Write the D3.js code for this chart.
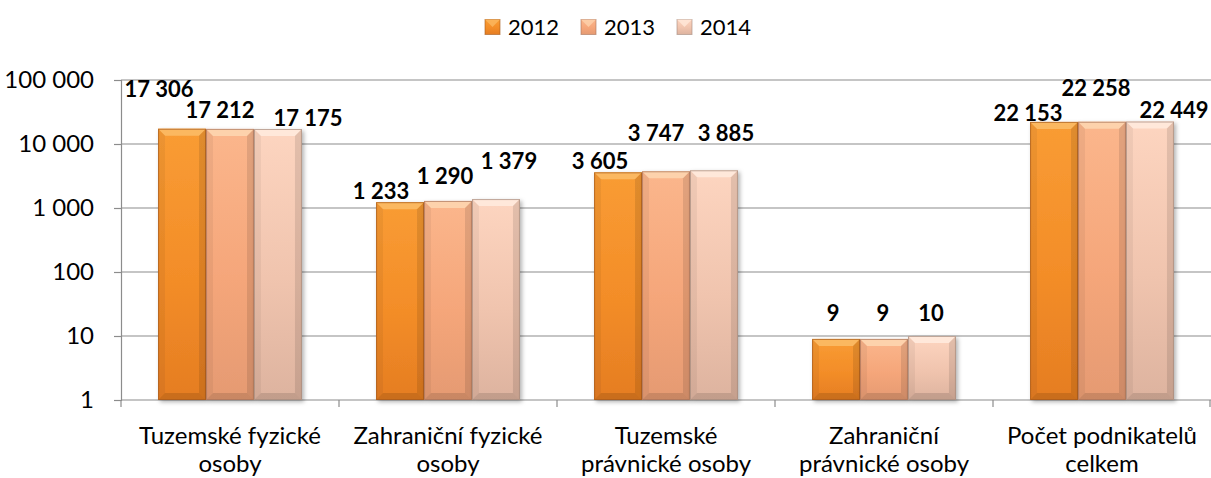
<!DOCTYPE html>
<html>
<head>
<meta charset="utf-8">
<script src="https://cdn.jsdelivr.net/npm/d3@7"></script>
<style>
  html, body { margin: 0; padding: 0; background: #fff; }
  svg { display: block; font-family: Lato, "Open Sans", sans-serif; }
</style>
</head>
<body>
<div id="chart"></div>
<script>
// --- data ---
const categories = [
  ["Tuzemské fyzické", "osoby"],
  ["Zahraniční fyzické", "osoby"],
  ["Tuzemské", "právnické osoby"],
  ["Zahraniční", "právnické osoby"],
  ["Počet podnikatelů", "celkem"]
];
const years = ["2012", "2013", "2014"];
const values2012 = [17306, 1233, 3605, 9, 22153];
const values2013 = [17212, 1290, 3747, 9, 22258];
const values2014 = [17175, 1379, 3885, 10, 22449];
const yTicks = [1, 10, 100, 1000, 10000, 100000];

// label nudges (Excel moved overlapping labels around), [dx, dy] per year per category
const labelNudge = [
  [[-23, -27], [-19, 1], [-18, 1], [-3, -14], [-26, 3]],
  [[-10, -7], [-3, -13], [-10, -26], [-1, -14], [-6, -21]],
  [[30, 1], [13, -26], [12, -25], [-1, -11], [24, 1]]
];

// --- setup ---
const W = 1211, H = 478;
const margin = { left: 121, right: 0, top: 80, bottom: 78 };
const series = [values2012, values2013, values2014];

const palette = [
  { top: "#fbb860", light: "#f99c34", mid: "#f38d28", dark: "#e57d22", edge: "#a55a1c" },
  { top: "#fdd2ac", light: "#fbb68c", mid: "#f5a67a", dark: "#e59a72", edge: "#a8735a" },
  { top: "#ffe8da", light: "#fdd5c0", mid: "#f0c4ae", dark: "#ddb39f", edge: "#a48a7e" }
];

const svg = d3.select("#chart").append("svg").attr("width", W).attr("height", H);
const defs = svg.append("defs");

palette.forEach((p, i) => {
  const g = defs.append("linearGradient").attr("id", "grad" + i)
    .attr("x1", 0).attr("y1", 0).attr("x2", 0).attr("y2", 1);
  g.append("stop").attr("offset", "0%").attr("stop-color", p.light);
  g.append("stop").attr("offset", "55%").attr("stop-color", p.mid);
  g.append("stop").attr("offset", "100%").attr("stop-color", p.dark);
});
const shadow = defs.append("filter").attr("id", "shadow")
  .attr("x", "-10%").attr("y", "-10%").attr("width", "130%").attr("height", "130%");
shadow.append("feDropShadow").attr("dx", 2).attr("dy", 2).attr("stdDeviation", 2)
  .attr("flood-color", "#000").attr("flood-opacity", 0.3);

const x0 = d3.scaleBand().domain(d3.range(categories.length))
  .range([margin.left, W - margin.right]).paddingInner(0.34).paddingOuter(0.17);
const x1 = d3.scaleBand().domain(d3.range(years.length)).range([0, x0.bandwidth()]);
const y = d3.scaleLog().domain([1, 100000]).range([H - margin.bottom, margin.top]);

const locale = d3.formatLocale({ decimal: ",", thousands: " ", grouping: [3], currency: ["", ""] });
const fmt = locale.format(",d");

// gridlines
svg.append("g").selectAll("line").data(yTicks.slice(1)).join("line")
  .attr("x1", margin.left).attr("x2", W - margin.right)
  .attr("y1", d => y(d)).attr("y2", d => y(d))
  .attr("stroke", "#8c8c8c").attr("stroke-width", 1.2);

// y axis
const yAxis = svg.append("g").attr("transform", `translate(${margin.left},0)`)
  .call(d3.axisLeft(y).tickValues(yTicks).tickFormat(fmt).tickSize(7).tickPadding(20));
yAxis.select(".domain").attr("stroke", "#8c8c8c").attr("stroke-width", 1.2);
yAxis.selectAll(".tick line").attr("stroke", "#8c8c8c").attr("stroke-width", 1.2);
yAxis.selectAll(".tick text").attr("fill", "#000").style("font-size", "24px")
  .style("font-family", "Lato, sans-serif");

// x axis
const xAxisY = H - margin.bottom;
svg.append("line").attr("x1", margin.left).attr("x2", W - margin.right)
  .attr("y1", xAxisY).attr("y2", xAxisY).attr("stroke", "#8c8c8c").attr("stroke-width", 1.2);
const bounds = d3.range(categories.length + 1).map(i => margin.left + i * x0.step());
svg.append("g").selectAll("line").data(bounds).join("line")
  .attr("x1", d => Math.min(d, W - 1)).attr("x2", d => Math.min(d, W - 1))
  .attr("y1", xAxisY).attr("y2", xAxisY + 7)
  .attr("stroke", "#8c8c8c").attr("stroke-width", 1.2);

const catLabels = svg.append("g").selectAll("text").data(categories).join("text")
  .attr("x", (d, i) => x0(i) + x0.bandwidth() / 2)
  .attr("y", xAxisY + 44)
  .attr("text-anchor", "middle").style("font-size", "24px").attr("fill", "#000");
catLabels.each(function (d) {
  const t = d3.select(this);
  d.forEach((line, k) => {
    t.append("tspan").attr("x", t.attr("x")).attr("dy", k === 0 ? 0 : 28).text(line);
  });
});

// bars
const B = 7;
function drawBar(g, x, yTop, w, h, p, gi) {
  const b = Math.min(B, h / 2);
  const bar = g.append("g").attr("filter", "url(#shadow)");
  bar.append("rect").attr("x", x).attr("y", yTop).attr("width", w).attr("height", h)
    .attr("fill", `url(#grad${gi})`);
  // top bevel
  bar.append("polygon")
    .attr("points", [[x, yTop], [x + w, yTop], [x + w - b, yTop + b], [x + b, yTop + b]].join(" "))
    .attr("fill", p.top);
  // left bevel
  bar.append("polygon")
    .attr("points", [[x, yTop], [x + b, yTop + b], [x + b, yTop + h - b], [x, yTop + h]].join(" "))
    .attr("fill", "#000").attr("opacity", 0.05);
  // right bevel
  bar.append("polygon")
    .attr("points", [[x + w, yTop], [x + w - b, yTop + b], [x + w - b, yTop + h - b], [x + w, yTop + h]].join(" "))
    .attr("fill", "#000").attr("opacity", 0.1);
  // bottom bevel
  bar.append("polygon")
    .attr("points", [[x, yTop + h], [x + b, yTop + h - b], [x + w - b, yTop + h - b], [x + w, yTop + h]].join(" "))
    .attr("fill", "#000").attr("opacity", 0.12);
  bar.append("rect").attr("x", x + 0.5).attr("y", yTop + 0.5).attr("width", w - 1).attr("height", h - 1)
    .attr("fill", "none").attr("stroke", p.edge).attr("stroke-opacity", 0.7);
}

const barsG = svg.append("g");
series.forEach((vals, si) => {
  vals.forEach((v, ci) => {
    const bx = x0(ci) + x1(si);
    const yt = y(v);
    drawBar(barsG, bx, yt, x1.bandwidth(), y(1) - yt, palette[si], si);
  });
});

// value labels
const labelsG = svg.append("g");
series.forEach((vals, si) => {
  labelsG.selectAll(null).data(vals).join("text")
    .attr("x", (v, ci) => x0(ci) + x1(si) + x1.bandwidth() / 2 + labelNudge[si][ci][0])
    .attr("y", (v, ci) => y(v) - 12 + labelNudge[si][ci][1])
    .attr("dy", "0.35em")
    .attr("text-anchor", "middle")
    .style("font-size", "22px").style("font-weight", "bold").attr("fill", "#000")
    .text(v => fmt(v));
});

// legend
const legend = svg.append("g").attr("transform", "translate(485,27)");
years.forEach((yr, i) => {
  const g = legend.append("g").attr("transform", `translate(${i * 96},0)`);
  const s = 15;
  g.append("rect").attr("x", 0).attr("y", -s / 2).attr("width", s).attr("height", s)
    .attr("fill", `url(#grad${i})`).attr("stroke", palette[i].edge).attr("stroke-opacity", 0.6);
  g.append("polygon")
    .attr("points", [[0, -s / 2], [s, -s / 2], [s / 2, 0]].join(" "))
    .attr("fill", palette[i].top).attr("opacity", 0.8);
  g.append("text").attr("x", 23).attr("y", 0).attr("dy", "0.35em")
    .style("font-size", "22px").attr("fill", "#000").text(yr);
});
</script>
</body>
</html>
